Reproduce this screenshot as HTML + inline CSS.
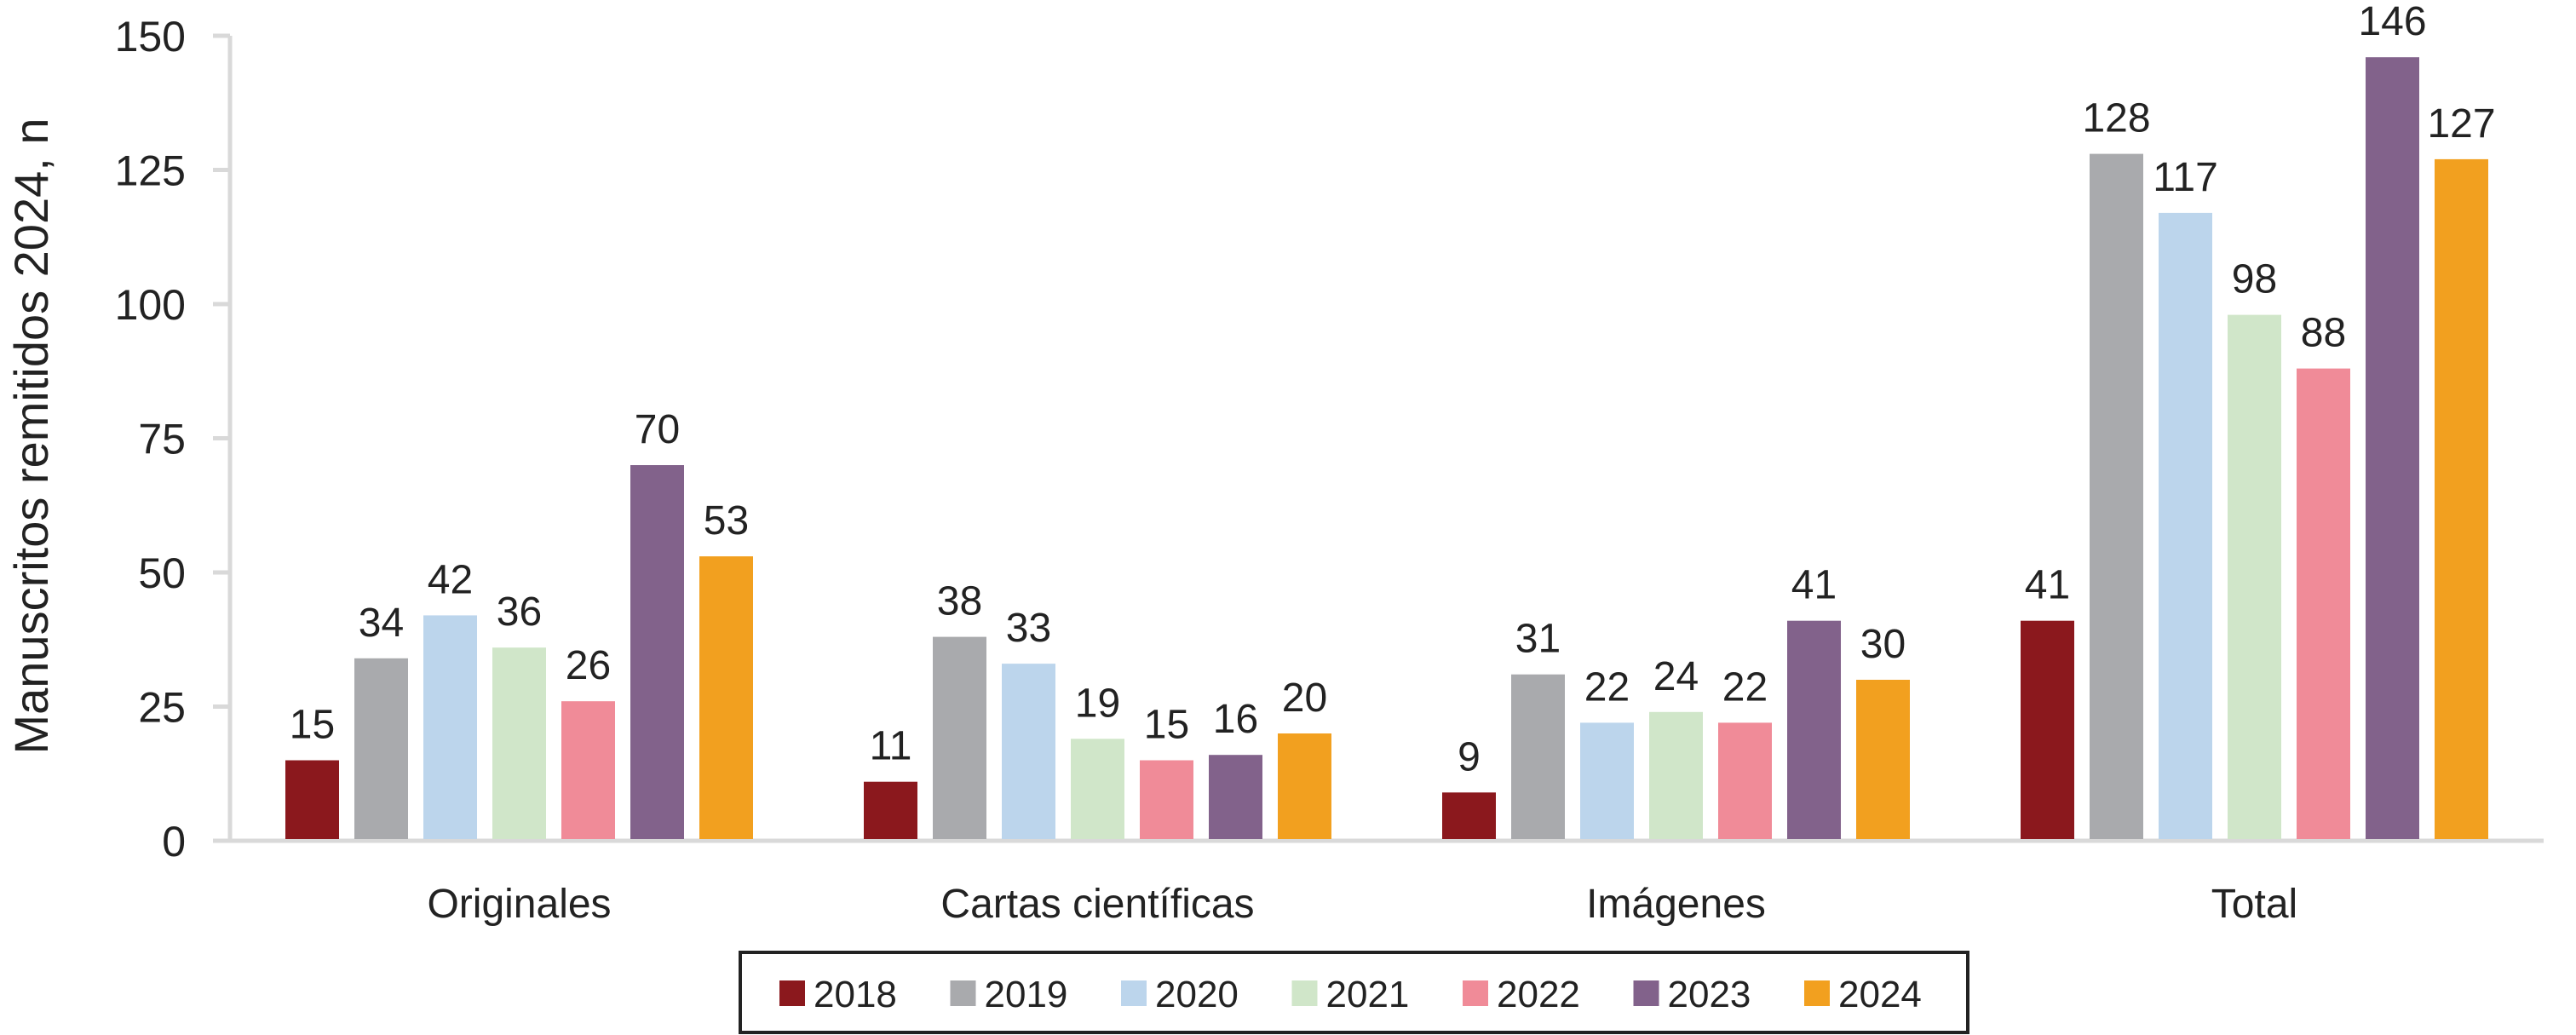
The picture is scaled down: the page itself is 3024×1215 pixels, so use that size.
<!DOCTYPE html>
<html><head><meta charset="utf-8"><style>
html,body{margin:0;padding:0;background:#fff;}
svg{display:block;font-family:"Liberation Sans",sans-serif;}
</style></head><body>
<svg id="chart" width="3024" height="1215" viewBox="0 0 3024 1215"></svg>
<script>
const categories = ["Originales", "Cartas científicas", "Imágenes", "Total"];
const years = ["2018","2019","2020","2021","2022","2023","2024"];
const s2018 = [15, 11, 9, 41];
const s2019 = [34, 38, 31, 128];
const s2020 = [42, 33, 22, 117];
const s2021 = [36, 19, 24, 98];
const s2022 = [26, 15, 22, 88];
const s2023 = [70, 16, 41, 146];
const s2024 = [53, 20, 30, 127];
const series = [s2018, s2019, s2020, s2021, s2022, s2023, s2024];
const colors = ["#8b181d","#a9aaad","#bcd5ec","#d0e6c9","#f08b98","#82628b","#f2a01f"];
const yTicks = [0, 25, 50, 75, 100, 125, 150];

const NS = "http://www.w3.org/2000/svg";
const svg = document.getElementById("chart");
const X0 = 270, X1 = 2986, Y0 = 987, YTOP = 42, YMAX = 150;
const y = v => Y0 - (Y0 - YTOP) * v / YMAX;
const catW = (X1 - X0) / categories.length;
const barW = 63, barPitch = 81;
const barX = (ci, si) => X0 + catW * (ci + 0.5) - (barPitch * series.length - (barPitch - barW)) / 2 + si * barPitch;
function mk(tag, attrs, parent) {
  const e = document.createElementNS(NS, tag);
  for (const k in attrs) e.setAttribute(k, attrs[k]);
  (parent || svg).appendChild(e);
  return e;
}
const ax = mk("line", {x1: X0, y1: YTOP, x2: X0, y2: Y0, stroke: "#d9d9d9", "stroke-width": 5});


const xax = mk("line", {x1: X0 - 20, y1: Y0, x2: X1, y2: Y0, stroke: "#d9d9d9", "stroke-width": 5});


yTicks.forEach(t => {
  const tk = mk("line", {x1: X0 - 20, y1: y(t), x2: X0, y2: y(t), stroke: "#d9d9d9", "stroke-width": 5});
  
  
  const tl = mk("text", {x: X0 - 52, y: y(t) + 18, "text-anchor": "end", "font-size": 50, fill: "#222"});
  tl.textContent = t;
  
  
});
const yt = mk("text", {x: 0, y: 0, transform: "translate(56,512) rotate(-90)", "text-anchor": "middle", "font-size": 56, fill: "#222"});
yt.textContent = "Manuscritos remitidos 2024, n";


categories.forEach((c, ci) => {
  series.forEach((s, si) => {
    const v = s[ci];
    const r = mk("rect", {x: barX(ci, si), y: y(v), width: barW, height: Y0 - 2 - y(v), fill: colors[si]});
    
    
    const l = mk("text", {x: barX(ci, si) + barW / 2, y: y(v) - 26, "text-anchor": "middle", "font-size": 48, fill: "#222"});
    l.textContent = v;
    
    
  });
  const cl = mk("text", {x: X0 + catW * (ci + 0.5), y: 1077, "text-anchor": "middle", "font-size": 48, fill: "#222"});
  cl.textContent = c;
  
  
});
const lg = mk("rect", {x: 869, y: 1118, width: 1441, height: 94, fill: "#fff", stroke: "#222", "stroke-width": 4});


years.forEach((yr, i) => {
  const lx = 915 + i * 200.5;
  const sw = mk("rect", {x: lx, y: 1151, width: 30, height: 30, fill: colors[i]});
  
  
  const lt = mk("text", {x: lx + 40, y: 1182, "font-size": 44, fill: "#222"});
  lt.textContent = yr;
  
  
});
</script>
</body></html>
